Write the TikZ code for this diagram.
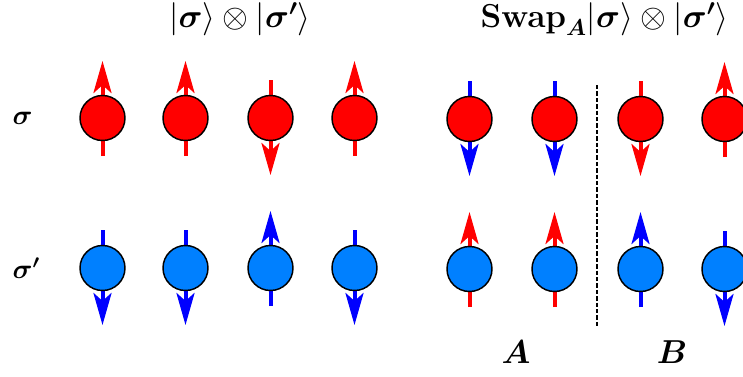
\documentclass[tikz,border=0pt]{standalone}
\usepackage{amsmath,amssymb}
\usepackage{xcolor}
\usepackage{tikz}
\usetikzlibrary{arrows.meta,calc}
\definecolor{sitered}{RGB}{255,0,0}
\definecolor{siteblue}{RGB}{0,128,255}
\definecolor{arrred}{RGB}{255,0,0}
\definecolor{arrblue}{RGB}{0,0,255}

\begin{document}
\begin{tikzpicture}[>={Stealth[length=24pt,width=13.5pt,inset=6pt]}, x=0.75pt, y=-0.75pt,
  site/.style={circle, draw=black, line width=1.1pt, minimum size=33.75pt, inner sep=0pt},
  spin/.style={->, line width=3pt},
  title/.style={font=\fontsize{24}{28}\selectfont, inner sep=0pt},
  lbl/.style={font=\huge},
  part/.style={font=\Huge}]
  \useasboundingbox (0,0) rectangle (743,376);
  % titles
  \node[title] (tleft) at (240,19.5) {$|\boldsymbol{\sigma}\rangle\otimes|\boldsymbol{\sigma'}\rangle$};
  \node[title] (tright) at (604.5,19.5) {$\mathbf{Swap}_{\boldsymbol{A}}|\boldsymbol{\sigma}\rangle\otimes|\boldsymbol{\sigma'}\rangle$};
  % rows
  \node[lbl, anchor=west] (rsig) at (8,118) {$\boldsymbol{\sigma}$};
  \node[lbl, anchor=west] (rsigp) at (8,268) {$\boldsymbol{\sigma'}$};
  % sigma, before the swap
  \foreach \x/\s/\ac [count=\i] in {102.5/1/arrred, 185.5/1/arrred, 270.5/-1/arrred, 354.5/1/arrred}{
    \coordinate (a\i) at (\x,118);
    \draw[spin,\ac] ($(a\i)+(0,38*\s)$) -- ($(a\i)+(0,-57*\s)$);
    \node[site, fill=sitered] (sa\i) at (a\i) {};
  }
  % sigma', before the swap
  \foreach \x/\s/\ac [count=\i] in {102.5/-1/arrblue, 185.5/-1/arrblue, 270.5/1/arrblue, 354.5/-1/arrblue}{
    \coordinate (b\i) at (\x,268);
    \draw[spin,\ac] ($(b\i)+(0,38*\s)$) -- ($(b\i)+(0,-57*\s)$);
    \node[site, fill=siteblue] (sb\i) at (b\i) {};
  }
  % after the swap on A
  \foreach \x/\s/\ac [count=\i] in {469.5/-1/arrblue, 554.5/-1/arrblue, 640.5/-1/arrred, 724.5/1/arrred}{
    \coordinate (c\i) at (\x,119);
    \draw[spin,\ac] ($(c\i)+(0,38*\s)$) -- ($(c\i)+(0,-57*\s)$);
    \node[site, fill=sitered] (sc\i) at (c\i) {};
  }
  \foreach \x/\s/\ac [count=\i] in {469.5/1/arrred, 554.5/1/arrred, 640.5/1/arrblue, 724.5/-1/arrblue}{
    \coordinate (d\i) at (\x,269);
    \draw[spin,\ac] ($(d\i)+(0,38*\s)$) -- ($(d\i)+(0,-57*\s)$);
    \node[site, fill=siteblue] (sd\i) at (d\i) {};
  }
  % cut between A and B
  \coordinate (cuttop) at (597,85);
  \coordinate (cutbot) at (597,328);
  \draw[line width=2.2pt, dash pattern=on 3.3pt off 1.5pt] (cuttop) -- (cutbot);
  \node[part] (pa) at (516,352) {$\boldsymbol{A}$};
  \node[part] (pb) at (672,352) {$\boldsymbol{B}$};
\end{tikzpicture}
\end{document}
